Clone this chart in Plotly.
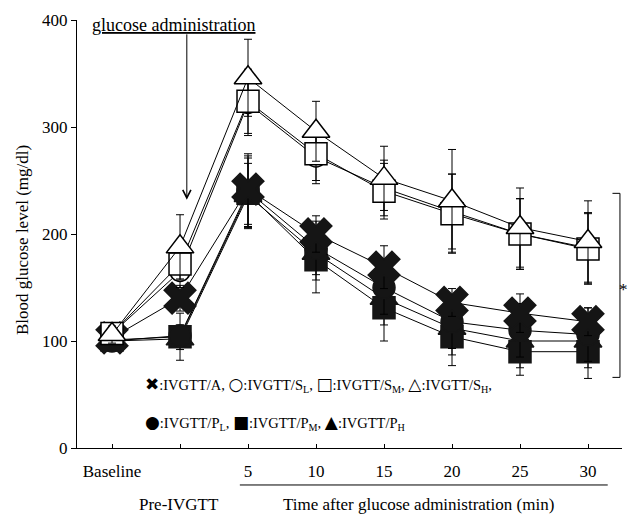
import plotly.graph_objects as go

# x positions: Baseline, Pre-IVGTT, 5, 10, 15, 20, 25, 30 min
x_pos = [0, 1, 2, 3, 4, 5, 6, 7]
tick_labels = ["Baseline", "", "5", "10", "15", "20", "25", "30"]

A_vals = [103, 140, 242, 200, 169, 136, 126, 118]
A_err = [5, 12, 33, 17, 20, 13, 18, 13]
SL_vals = [107, 165, 322, 272, 243, 221, 200, 187]
SL_err = [8, 15, 30, 25, 26, 35, 33, 33]
SM_vals = [107, 172, 324, 275, 240, 219, 200, 186]
SM_err = [8, 15, 30, 25, 26, 37, 33, 33]
SH_vals = [106, 188, 346, 296, 252, 231, 206, 193]
SH_err = [8, 30, 36, 28, 30, 48, 37, 38]
PL_vals = [100, 105, 240, 187, 150, 118, 110, 106]
PL_err = [6, 10, 33, 25, 25, 25, 25, 25]
PM_vals = [101, 104, 238, 176, 131, 104, 90, 90]
PM_err = [6, 22, 33, 31, 31, 27, 22, 25]
PH_vals = [100, 102, 236, 182, 140, 112, 100, 100]
PH_err = [6, 10, 30, 25, 25, 25, 25, 25]

FONT = "Liberation Serif"
DARK = "#151515"

series = [
    ("IVGTT/P_H", PH_vals, PH_err, "triangle-up", 24, DARK, DARK),
    ("IVGTT/P_M", PM_vals, PM_err, "square", 22, DARK, DARK),
    ("IVGTT/P_L", PL_vals, PL_err, "circle", 22, DARK, DARK),
    ("IVGTT/A", A_vals, A_err, "x", 28, DARK, DARK),
    ("IVGTT/S_L", SL_vals, SL_err, "circle", 20, "white", "black"),
    ("IVGTT/S_M", SM_vals, SM_err, "square", 22, "white", "black"),
    ("IVGTT/S_H", SH_vals, SH_err, "triangle-up", 24, "white", "black"),
]

fig = go.Figure()
for name, vals, err, sym, size, fill, edge in series:
    fig.add_trace(go.Scatter(
        x=x_pos, y=vals, name=name, mode="lines+markers",
        line=dict(color="black", width=1),
        marker=dict(symbol=sym, size=size, color=fill,
                    line=dict(color=edge, width=1.5)),
        error_y=dict(type="data", array=err, visible=True,
                     color="black", thickness=1, width=4),
        showlegend=False,
    ))

fig.update_layout(
    width=633, height=514,
    margin=dict(l=77, r=11, t=20, b=66),
    plot_bgcolor="white", paper_bgcolor="white",
    font=dict(family=FONT, size=17, color="black"),
    xaxis=dict(
        range=[-0.515, 7.5], tickmode="array", tickvals=x_pos,
        ticktext=tick_labels, ticks="inside", ticklen=4, tickcolor="black",
        showline=True, linecolor="black", linewidth=1,
        showgrid=False, zeroline=False, ticklabelstandoff=8,
        tickfont=dict(family=FONT, size=17, color="black"),
    ),
    yaxis=dict(
        range=[0, 400], tickvals=[0, 100, 200, 300, 400],
        ticks="outside", ticklen=5, tickcolor="black",
        showline=True, linecolor="black", linewidth=1,
        showgrid=False, zeroline=False,
        tickfont=dict(family=FONT, size=17, color="black"),
    ),
)

def sym(ch):
    return '<span style="font-family:DejaVu Sans;font-size:17px">' + ch + '</span>'

ann = []
ann.append(dict(text="Blood glucose level (mg/dl)", textangle=-90,
                xref="paper", yref="paper", x=-0.12, y=0.486,
                showarrow=False, font=dict(size=17)))
ann.append(dict(text="<u>glucose administration</u>", xref="x", yref="y",
                x=0.91, y=395, showarrow=False, font=dict(size=18)))
ann.append(dict(text="", xref="x", yref="y", x=1.1, y=232,
                axref="x", ayref="y", ax=1.1, ay=388,
                showarrow=True, arrowhead=5, arrowsize=1.6,
                arrowwidth=1, arrowcolor="black"))
ann.append(dict(text=sym("✖") + ":IVGTT/A, " + sym("○") + ":IVGTT/S<sub>L</sub>, "
                + sym("□") + ":IVGTT/S<sub>M</sub>, " + sym("△") + ":IVGTT/S<sub>H</sub>,",
                xref="x", yref="y", x=0.456, y=59, xanchor="left",
                showarrow=False, font=dict(size=14.5)))
ann.append(dict(text=sym("●") + ":IVGTT/P<sub>L</sub>, " + sym("■") + ":IVGTT/P<sub>M</sub>, "
                + sym("▲") + ":IVGTT/P<sub>H</sub>",
                xref="x", yref="y", x=0.456, y=24, xanchor="left",
                showarrow=False, font=dict(size=14.5)))
ann.append(dict(text="Pre-IVGTT", xref="x", yref="paper", x=0.98, y=-0.133,
                yanchor="middle", showarrow=False, font=dict(size=17)))
ann.append(dict(text="Time after glucose administration (min)", xref="x",
                yref="paper", x=4.51, y=-0.133, yanchor="middle",
                showarrow=False, font=dict(size=17)))
ann.append(dict(text="*", xref="paper", yref="y", x=1.015, y=148,
                showarrow=False, font=dict(size=17)))
fig.update_layout(annotations=ann)

shapes = []
shapes.append(dict(type="line", xref="x", yref="paper", x0=1.88, x1=7.29,
                   y0=-0.0864, y1=-0.0864, line=dict(color="black", width=1)))
shapes.append(dict(type="path", xref="x", yref="y",
                   path="M 7.36,238 L 7.47,238 L 7.47,66 L 7.36,66",
                   line=dict(color="black", width=1)))
fig.update_layout(shapes=shapes)

fig.write_html("out.html")
